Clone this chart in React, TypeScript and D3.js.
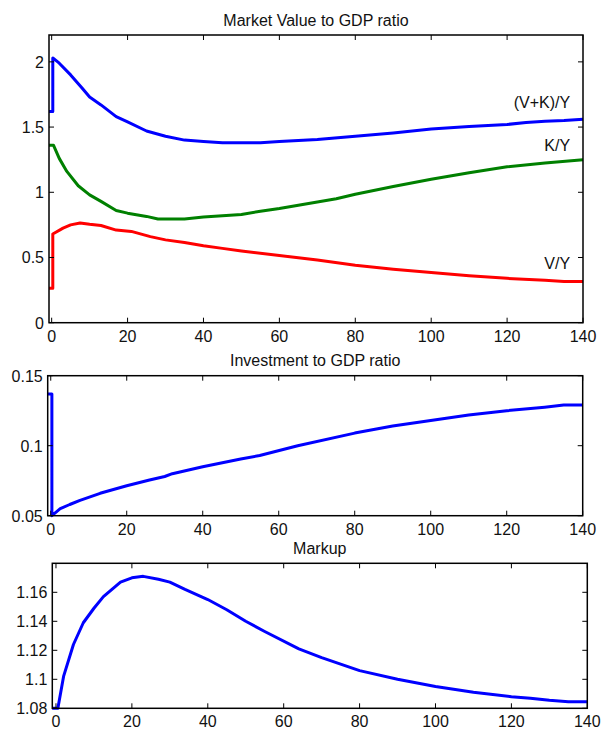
import React from 'react';
import * as d3 from 'd3';

// ---------- data ----------
const xTicks = [0, 20, 40, 60, 80, 100, 120, 140];

const topTitle = 'Market Value to GDP ratio';
const topYTicks = [0, 0.5, 1, 1.5, 2];
const vkX = [-0.7, 0.3, 0.3, 2, 5, 8, 10, 13, 17, 20, 25, 30, 35, 40, 45, 50, 55, 60, 70, 80, 90, 100, 110, 120, 125, 130, 135, 140];
const vkY = [1.62, 1.62, 2.03, 1.99, 1.9, 1.8, 1.73, 1.67, 1.58, 1.54, 1.47, 1.43, 1.4, 1.39, 1.38, 1.38, 1.38, 1.39, 1.405, 1.43, 1.455, 1.485, 1.505, 1.52, 1.535, 1.545, 1.55, 1.56];
const kX = [-0.7, 0.5, 2, 4, 7, 10, 13, 17, 20, 25, 28, 35, 40, 45, 50, 55, 60, 65, 70, 75, 80, 90, 100, 110, 120, 130, 140];
const kY = [1.36, 1.36, 1.26, 1.16, 1.05, 0.98, 0.93, 0.86, 0.84, 0.815, 0.795, 0.795, 0.81, 0.82, 0.83, 0.855, 0.875, 0.9, 0.925, 0.95, 0.985, 1.045, 1.1, 1.15, 1.195, 1.225, 1.25];
const vX = [-0.7, 0.3, 0.3, 3, 5, 7.5, 10, 13, 17, 21, 26, 30, 35, 40, 45, 50, 60, 70, 80, 90, 100, 110, 120, 130, 135, 140];
const vY = [0.265, 0.265, 0.68, 0.725, 0.75, 0.765, 0.755, 0.745, 0.71, 0.7, 0.66, 0.635, 0.615, 0.59, 0.57, 0.55, 0.515, 0.48, 0.44, 0.41, 0.385, 0.36, 0.34, 0.325, 0.315, 0.315];
const topLabels = ['(V+K)/Y', 'K/Y', 'V/Y'];
const topLabelY = [1.643, 1.313, 0.414];

const midTitle = 'Investment to GDP ratio';
const midYTicks = [0.05, 0.1, 0.15];
const invX = [-0.8, 0.3, 0.3, 2.5, 5, 7.7, 13, 20, 26, 30, 32, 40, 50, 55, 65, 80, 90, 100, 110, 120, 130, 135, 140];
const invY = [0.137, 0.137, 0.05, 0.055, 0.058, 0.061, 0.066, 0.0714, 0.0755, 0.078, 0.08, 0.085, 0.0905, 0.093, 0.1, 0.109, 0.114, 0.118, 0.122, 0.125, 0.1275, 0.129, 0.129];

const botTitle = 'Markup';
const botYTicks = [1.08, 1.1, 1.12, 1.14, 1.16];
const mkX = [-1, 0.5, 2, 4.6, 7.2, 10, 12.5, 17, 20, 23, 27, 30, 34, 40, 45, 50, 55, 64, 70, 80, 90, 100, 110, 120, 125, 130, 135, 140];
const mkY = [1.08, 1.08, 1.102, 1.124, 1.139, 1.149, 1.157, 1.167, 1.17, 1.171, 1.169, 1.167, 1.162, 1.155, 1.148, 1.14, 1.133, 1.121, 1.115, 1.106, 1.1, 1.095, 1.091, 1.088, 1.087, 1.0855, 1.0845, 1.0845];

// ---------- layout ----------
const FONT = '"Liberation Sans", Arial, Helvetica, sans-serif';
const FS = 16;

type Series = { xs: number[]; ys: number[]; color: string };
type PanelProps = {
  left: number; right: number; top: number; bottom: number;
  xDomain: [number, number]; yDomain: [number, number];
  yTicks: number[]; title: string; series: Series[];
  labels?: { text: string; x: number; y: number }[];
};

function Panel(p: PanelProps) {
  const x = d3.scaleLinear().domain(p.xDomain).range([p.left, p.right]);
  const y = d3.scaleLinear().domain(p.yDomain).range([p.bottom, p.top]);
  const line = d3.line<[number, number]>().x(d => x(d[0])).y(d => y(d[1]));
  const tl = 5;
  return (
    <g>
      <text x={(p.left + p.right) / 2} y={p.top - 9.5} textAnchor="middle" fontSize={FS} fontFamily={FONT} fill="#111">{p.title}</text>
      {p.series.map((s, i) => (
        <path key={i} d={line(s.xs.map((v, j) => [v, s.ys[j]]) as [number, number][]) || ''} fill="none" stroke={s.color} strokeWidth={3} strokeLinejoin="round" />
      ))}
      <rect x={p.left} y={p.top} width={p.right - p.left} height={p.bottom - p.top} fill="none" stroke="#000" strokeWidth={1.5} />
      {xTicks.map(t => (
        <g key={'x' + t}>
          <line x1={x(t)} x2={x(t)} y1={p.bottom} y2={p.bottom - tl} stroke="#000" strokeWidth={1} />
          <line x1={x(t)} x2={x(t)} y1={p.top} y2={p.top + tl} stroke="#000" strokeWidth={1} />
          <text x={x(t)} y={p.bottom + 19} textAnchor="middle" fontSize={FS} fontFamily={FONT} fill="#111">{t}</text>
        </g>
      ))}
      {p.yTicks.map(t => (
        <g key={'y' + t}>
          <line x1={p.left} x2={p.left + tl} y1={y(t)} y2={y(t)} stroke="#000" strokeWidth={1} />
          <line x1={p.right} x2={p.right - tl} y1={y(t)} y2={y(t)} stroke="#000" strokeWidth={1} />
          <text x={p.left - 5} y={y(t) + 6} textAnchor="end" fontSize={FS} fontFamily={FONT} fill="#111">{String(t)}</text>
        </g>
      ))}
      {(p.labels || []).map((l, i) => (
        <text key={i} x={x(l.x)} y={y(l.y)} textAnchor="end" fontSize={FS} fontFamily={FONT} fill="#111">{l.text}</text>
      ))}
    </g>
  );
}

export default function App() {
  return (
    <svg width={603} height={730} style={{ position: 'absolute', left: 0, top: 0, background: '#fff' }}>
      <rect x={0} y={0} width={603} height={730} fill="#fff" />
      <Panel left={49} right={583} top={35} bottom={322.7} xDomain={[-0.7, 140]} yDomain={[0, 2.206]}
        yTicks={topYTicks} title={topTitle}
        series={[
          { xs: vkX, ys: vkY, color: '#0000ff' },
          { xs: kX, ys: kY, color: '#008000' },
          { xs: vX, ys: vY, color: '#ff0000' },
        ]}
        labels={topLabels.map((t, i) => ({ text: t, x: 136.6, y: topLabelY[i] }))}
      />
      <Panel left={47.7} right={582.7} top={375.7} bottom={515.7} xDomain={[-0.8, 140]} yDomain={[0.05, 0.15]}
        yTicks={midYTicks} title={midTitle}
        series={[{ xs: invX, ys: invY, color: '#0000ff' }]}
      />
      <Panel left={52.3} right={587.3} top={563.3} bottom={708.3} xDomain={[-0.97, 140]} yDomain={[1.08, 1.18]}
        yTicks={botYTicks} title={botTitle}
        series={[{ xs: mkX, ys: mkY, color: '#0000ff' }]}
      />
    </svg>
  );
}
